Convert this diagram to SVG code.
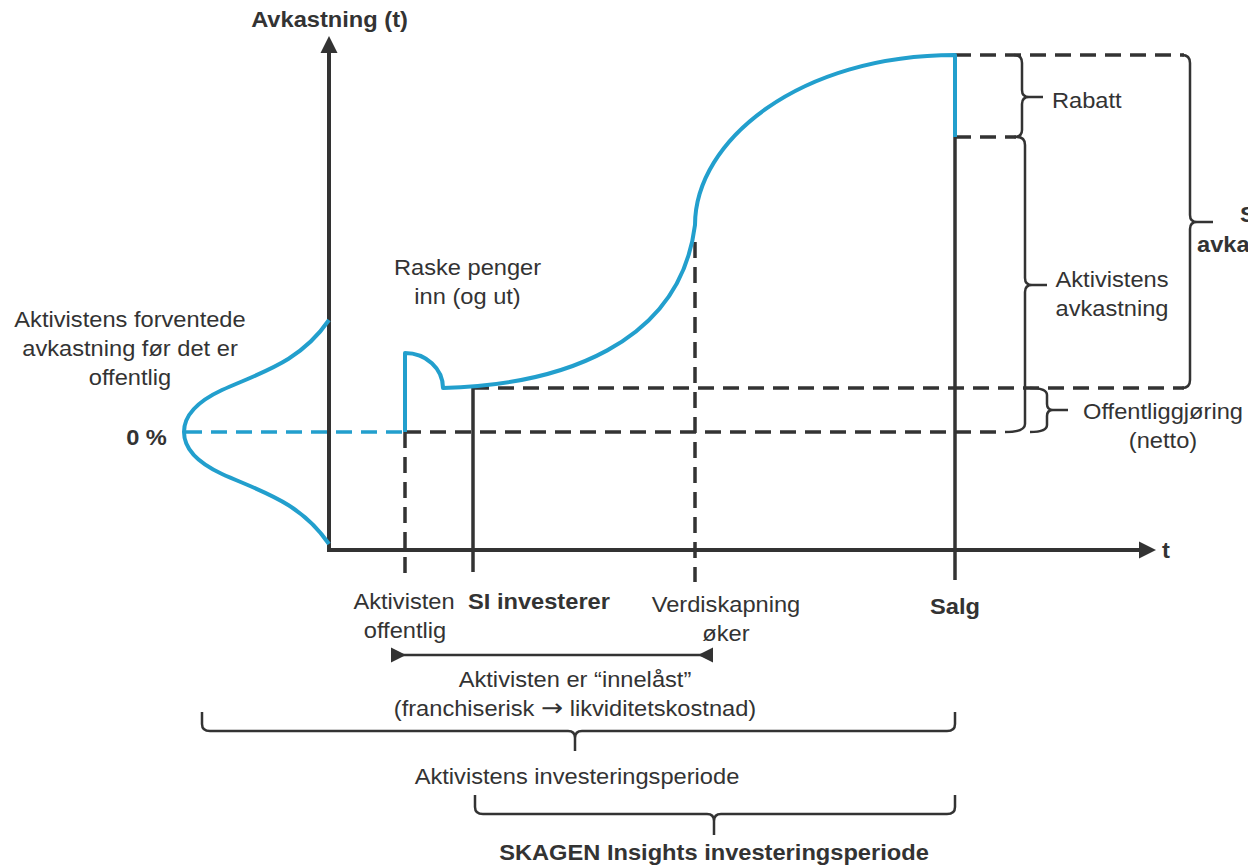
<svg xmlns="http://www.w3.org/2000/svg" width="1248" height="866" viewBox="0 0 1248 866">
<style>
.ax{stroke:#333;stroke-width:4;fill:none}
.sol{stroke:#333;stroke-width:3.5;fill:none}
.dash{stroke:#333;stroke-width:3.5;fill:none;stroke-dasharray:16 9}
.bl{stroke:#229fcd;stroke-width:4;fill:none;stroke-linejoin:round}
.bldash{stroke:#229fcd;stroke-width:3.5;fill:none;stroke-dasharray:16 9}
.br{stroke:#333;stroke-width:2.5;fill:none;stroke-linejoin:round}
.hd{fill:#333}
text{font-family:"Liberation Sans",Arial,sans-serif;font-size:21.5px;fill:#333}
.m{text-anchor:middle}
.b{font-weight:bold}
.arr{font-family:"DejaVu Sans",sans-serif;font-size:24px}
</style>
<rect width="1248" height="866" fill="#fff"/>
<g id="connectors">
  <path class="ax" d="M329,550 L329,50"/>
  <polygon class="hd" points="320.5,53 329,36 337.5,53"/>
  <path class="ax" d="M327,550 L1142,550"/>
  <polygon class="hd" points="1139,541.5 1156,550 1139,558.5"/>
  <path class="bldash" d="M186,432 L405,432"/>
  <path class="dash" d="M405,432 L1005,432"/>
  <path class="dash" d="M473,388 L1184,388"/>
  <path class="dash" d="M955,55 L1184,55"/>
  <path class="dash" d="M955,137 L1016,137"/>
  <path class="dash" d="M405,432 L405,582"/>
  <path class="dash" d="M695,242 L695,582"/>
  <path class="sol" d="M473,388 L473,572"/>
  <path class="sol" d="M955,137 L955,580"/>
  <path class="bl" d="M329,320 C300,362 262,372 222,390 C192,404 184,420 184,432 C184,444 192,460 222,474 C262,492 300,502 329,544"/>
  <path class="bl" d="M405,432 L405,353 A38,35 0 0 1 443,388 C560,385 680,345 695,225 C695,140 800,55 955,55 L955,137"/>
  <path class="br" d="M396,655 L708,655"/>
  <polygon class="hd" points="391,647.5 406,655 391,662.5"/>
  <polygon class="hd" points="713,647.5 698,655 713,662.5"/>
  <path class="br" d="M1014,55 Q1022,55 1022,63 L1022,90 Q1022,97 1029,97 L1043,97 M1029,97 Q1022,97 1022,104 L1022,130 Q1022,137 1014,137"/>
  <path class="br" d="M1017,137 Q1025,137 1025,145 L1025,278 Q1025,285 1032,285 L1047,285 M1032,285 Q1025,285 1025,292 L1025,424 Q1025,432 1005,432"/>
  <path class="br" d="M1182,55 Q1190,55 1190,63 L1190,215 Q1190,222 1197,222 L1213,222 M1197,222 Q1190,222 1190,229 L1190,380 Q1190,388 1182,388"/>
  <path class="br" d="M1030,388 Q1047,388 1047,395 L1047,404 Q1047,410 1053,410 L1068,410 M1053,410 Q1047,410 1047,416 L1047,425 Q1047,432 1030,432"/>
  <path class="br" d="M202,712 L202,724 Q202,731 210,731 L568,731 Q575,731 575,738 L575,751 M575,738 Q575,731 582,731 L947,731 Q955,731 955,724 L955,712"/>
  <path class="br" d="M475,795 L475,807 Q475,814 483,814 L707,814 Q714,814 714,821 L714,835 M714,821 Q714,814 721,814 L947,814 Q955,814 955,807 L955,795"/>
</g>
<g id="labels">
  <text class="m b" transform="translate(329.5,27) scale(1.1,1)">Avkastning (t)</text>
  <text class="b" transform="translate(1162,558) scale(1.1,1)">t</text>
  <text class="m b" transform="translate(146.5,445) scale(1.1,1)">0 %</text>
  <g id="expected">
    <text class="m" transform="translate(130,327) scale(1.1,1)">Aktivistens forventede</text>
    <text class="m" transform="translate(130,356) scale(1.1,1)">avkastning før det er</text>
    <text class="m" transform="translate(130,385) scale(1.1,1)">offentlig</text>
  </g>
  <g id="raske">
    <text class="m" transform="translate(467.5,275) scale(1.1,1)">Raske penger</text>
    <text class="m" transform="translate(467.5,304) scale(1.1,1)">inn (og ut)</text>
  </g>
  <text transform="translate(1052,108) scale(1.1,1)">Rabatt</text>
  <g id="aktavk">
    <text class="m" transform="translate(1112,287) scale(1.1,1)">Aktivistens</text>
    <text class="m" transform="translate(1112,316) scale(1.1,1)">avkastning</text>
  </g>
  <g id="offentlig">
    <text class="m" transform="translate(1163,419) scale(1.1,1)">Offentliggjøring</text>
    <text class="m" transform="translate(1163,448) scale(1.1,1)">(netto)</text>
  </g>
  <g id="cut">
    <text class="b" transform="translate(1240,222) scale(1.1,1)">S</text>
    <text class="b" transform="translate(1197,252) scale(1.1,1)">avka</text>
  </g>
  <g id="aktoff">
    <text class="m" transform="translate(404,609) scale(1.1,1)">Aktivisten</text>
    <text class="m" transform="translate(405,638) scale(1.1,1)">offentlig</text>
  </g>
  <text class="b" transform="translate(468,609) scale(1.1,1)">SI investerer</text>
  <g id="verdi">
    <text class="m" transform="translate(726,612) scale(1.1,1)">Verdiskapning</text>
    <text class="m" transform="translate(726,641) scale(1.1,1)">øker</text>
  </g>
  <text class="m b" transform="translate(955,614) scale(1.1,1)">Salg</text>
  <g id="innelast">
    <text class="m" transform="translate(575,687) scale(1.1,1)">Aktivisten er “innelåst”</text>
    <text class="m" transform="translate(575,716) scale(1.1,1)">(franchiserisk <tspan class="arr">→</tspan> likviditetskostnad)</text>
  </g>
  <text class="m" transform="translate(577,784) scale(1.1,1)">Aktivistens investeringsperiode</text>
  <text class="m b" transform="translate(714,860) scale(1.1,1)">SKAGEN Insights investeringsperiode</text>
</g>
</svg>
